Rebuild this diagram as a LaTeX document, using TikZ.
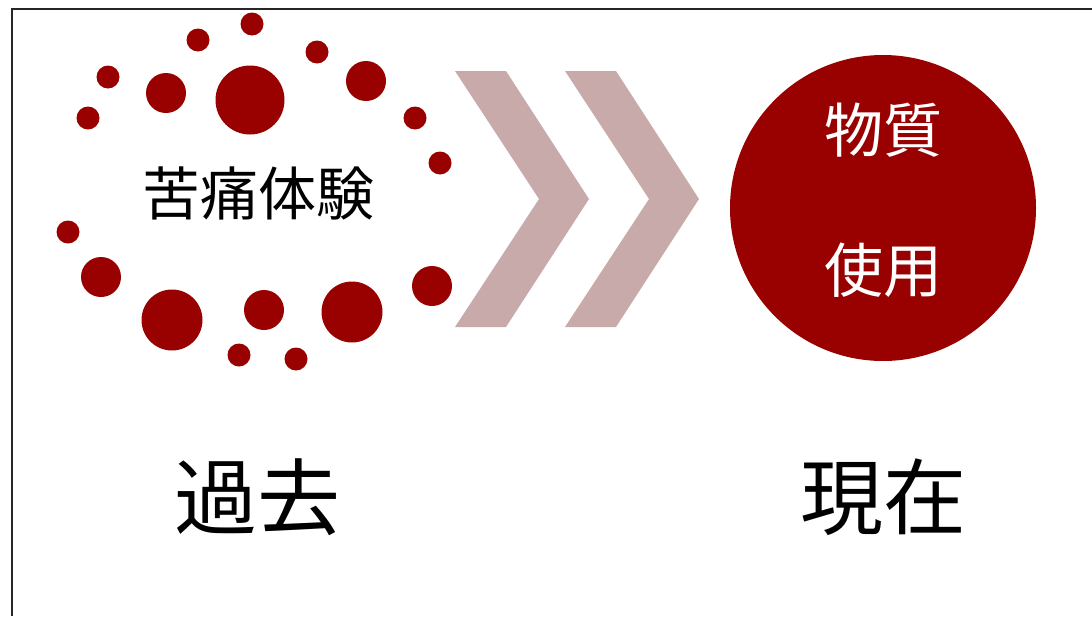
\documentclass[tikz,border=0pt]{standalone}
\usepackage{fontspec}
\newfontfamily\cjk{Noto Sans CJK JP}
\definecolor{dred}{HTML}{990000}
\definecolor{chev}{HTML}{C9AAAB}
\tikzset{
  dot/.style={circle,fill=dred,inner sep=0pt,minimum size=#1},
  chevshape/.style={fill=chev,draw=none},
  lbl/.style={font=\cjk\fontsize{#1}{#1}\selectfont,inner sep=0pt}
}
\begin{document}
\begin{tikzpicture}[x=1pt,y=-1pt]
\useasboundingbox (0,0) rectangle (1092,616);
\fill[white] (0,0) rectangle (1092,616);
\draw[line width=2pt,black!85] (12,616) -- (12,9) -- (1092,9);
% dots
\node[dot=23pt] (d1) at (252,24) {};
\node[dot=23pt] (d2) at (198,40) {};
\node[dot=23pt] (d3) at (317,52) {};
\node[dot=23pt] (d4) at (108,77) {};
\node[dot=40pt] (d5) at (166,93) {};
\node[dot=69pt] (d6) at (250,100) {};
\node[dot=40pt] (d7) at (366,81) {};
\node[dot=23pt] (d8) at (88,118) {};
\node[dot=23pt] (d9) at (415,118) {};
\node[dot=23pt] (d10) at (440,163) {};
\node[dot=23pt] (d11) at (68,232) {};
\node[dot=40pt] (d12) at (101,277) {};
\node[dot=61pt] (d13) at (172,320) {};
\node[dot=40pt] (d14) at (264,310) {};
\node[dot=61pt] (d15) at (352,312) {};
\node[dot=40pt] (d16) at (432,286) {};
\node[dot=23pt] (d17) at (239,355) {};
\node[dot=23pt] (d18) at (296,359) {};
\node[lbl=58pt] (pain) at (258,193) {苦痛体験};
% chevrons
\fill[chevshape] (455,71) -- (506,71) -- (589,199) -- (506,327) -- (455,327) -- (539,199) -- cycle;
\fill[chevshape] (565,71) -- (616,71) -- (699,199) -- (616,327) -- (565,327) -- (649,199) -- cycle;
% right circle
\node[circle,fill=dred,inner sep=0pt,minimum size=306pt] (now) at (883,208) {};
\node[lbl=59pt,text=white] (sub) at (883,130) {物質};
\node[lbl=59pt,text=white] (use) at (883,270) {使用};
% bottom labels
\node[lbl=83pt] (past) at (257,497) {過去};
\node[lbl=83pt] (pres) at (883,497) {現在};
\end{tikzpicture}
\end{document}
